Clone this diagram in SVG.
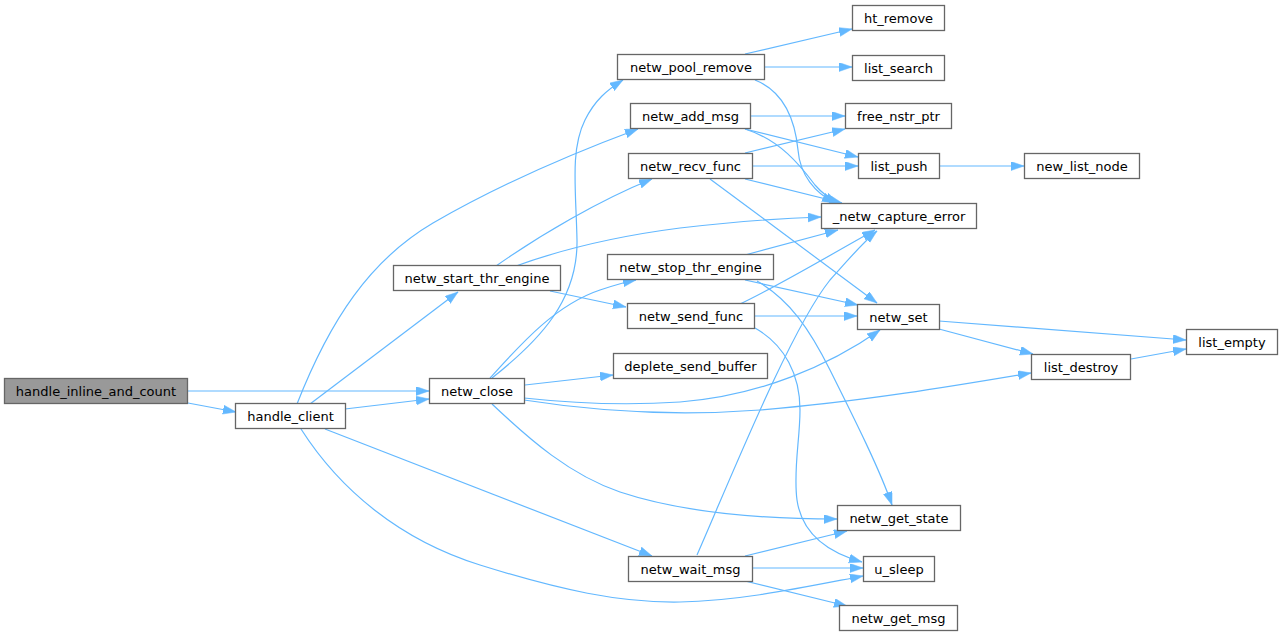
<svg xmlns="http://www.w3.org/2000/svg" width="1283" height="636" viewBox="0 0 1283 636">
<style>
.n rect{fill:#ffffff;stroke:#666666;stroke-width:1.3}
.root rect{fill:#999999;stroke:#666666;stroke-width:1.3}
.n text{font-family:"DejaVu Sans","Liberation Sans",sans-serif;font-size:13px;fill:#000000;text-anchor:middle}
.e path{fill:none;stroke:#63b8ff;stroke-width:1.2;marker-end:url(#ah)}
</style>
<defs>
<marker id="ah" markerUnits="userSpaceOnUse" markerWidth="14" markerHeight="10" refX="13" refY="4.5" orient="auto">
<path d="M0,0 L13,4.5 L0,9 z" fill="#63b8ff" stroke="#63b8ff" stroke-width="0.5"/>
</marker>
</defs>
<rect x="0" y="0" width="1283" height="636" fill="#ffffff"/>
<g id="connectors" class="e">
<path d="M188,391 L429,391"/>
<path d="M188,403 L236,412"/>
<path d="M345,409 L429,399"/>
<path d="M310,404 L458,292"/>
<path d="M297,404 C330,320 370,260 433,223 C490,190 560,158 638,129"/>
<path d="M325,429 L652,556"/>
<path d="M301,429 C340,490 400,540 480,565 C560,590 620,603 680,602 C740,601 800,588 863,576"/>
<path d="M496,266 C540,235 600,200 652,179"/>
<path d="M516,266 C560,250 610,237 680,228 C740,221 790,218 821,217"/>
<path d="M550,291 L626,307"/>
<path d="M492,378 C540,340 578,300 577,240 C576,190 570,150 585,120 C595,100 607,90 623,80"/>
<path d="M490,378 C520,345 555,305 600,290 C615,285 625,282 636,280"/>
<path d="M525,385 L613,375"/>
<path d="M524,398 C570,403 620,406 680,402 C760,396 830,365 880,330"/>
<path d="M524,400 C600,412 680,416 760,410 C860,402 960,385 1031,373"/>
<path d="M492,404 C530,440 570,475 620,492 C680,512 760,519 837,519"/>
<path d="M745,54 L852,29"/>
<path d="M764,67 L852,67"/>
<path d="M755,80 C785,92 795,120 798,150 C800,175 815,193 835,203"/>
<path d="M751,116 L845,116"/>
<path d="M745,129 L858,157"/>
<path d="M745,129 C780,140 800,165 815,185 C822,193 830,199 838,203"/>
<path d="M745,153 L845,129"/>
<path d="M753,166 L858,166"/>
<path d="M745,179 L842,203"/>
<path d="M710,179 L877,303"/>
<path d="M745,255 L838,230"/>
<path d="M745,280 L858,305"/>
<path d="M757,281 C790,300 810,330 830,370 C855,420 880,470 892,505"/>
<path d="M740,304 C780,285 830,255 875,230"/>
<path d="M754,316 L857,316"/>
<path d="M755,328 C785,345 800,375 800,410 C800,440 793,470 797,500 C802,535 830,553 862,562"/>
<path d="M697,555 C730,480 790,330 830,280 C850,258 862,243 877,231"/>
<path d="M745,556 L847,531"/>
<path d="M752,568 L863,568"/>
<path d="M745,581 L847,606"/>
<path d="M939,166 L1024,166"/>
<path d="M939,321 L1186,340"/>
<path d="M939,329 L1033,354"/>
<path d="M1131,359 L1186,349"/>
</g>
<g id="handle_inline_and_count" class="n root"><rect x="4.5" y="378.5" width="183" height="25"/><text x="96" y="395.5">handle_inline_and_count</text></g>
<g id="handle_client" class="n"><rect x="235.5" y="403.5" width="110" height="25"/><text x="290.5" y="420.5">handle_client</text></g>
<g id="netw_close" class="n"><rect x="429.5" y="378.5" width="95" height="25"/><text x="477" y="395.5">netw_close</text></g>
<g id="netw_start_thr_engine" class="n"><rect x="393.5" y="265.5" width="167" height="25"/><text x="477" y="282.5">netw_start_thr_engine</text></g>
<g id="netw_pool_remove" class="n"><rect x="617.5" y="54.5" width="147" height="25"/><text x="691" y="71.5">netw_pool_remove</text></g>
<g id="netw_add_msg" class="n"><rect x="630.5" y="103.5" width="120" height="25"/><text x="690.5" y="120.5">netw_add_msg</text></g>
<g id="netw_recv_func" class="n"><rect x="628.5" y="153.5" width="124" height="25"/><text x="690.5" y="170.5">netw_recv_func</text></g>
<g id="netw_stop_thr_engine" class="n"><rect x="607.5" y="254.5" width="166" height="25"/><text x="690.5" y="271.5">netw_stop_thr_engine</text></g>
<g id="netw_send_func" class="n"><rect x="627.5" y="303.5" width="127" height="25"/><text x="691" y="320.5">netw_send_func</text></g>
<g id="deplete_send_buffer" class="n"><rect x="613.5" y="353.5" width="154" height="25"/><text x="690.5" y="370.5">deplete_send_buffer</text></g>
<g id="netw_wait_msg" class="n"><rect x="628.5" y="556.5" width="124" height="25"/><text x="690.5" y="573.5">netw_wait_msg</text></g>
<g id="ht_remove" class="n"><rect x="852.5" y="5.5" width="92" height="25"/><text x="898.5" y="22.5">ht_remove</text></g>
<g id="list_search" class="n"><rect x="852.5" y="55.5" width="92" height="25"/><text x="898.5" y="72.5">list_search</text></g>
<g id="free_nstr_ptr" class="n"><rect x="845.5" y="103.5" width="106" height="25"/><text x="898.5" y="120.5">free_nstr_ptr</text></g>
<g id="list_push" class="n"><rect x="858.5" y="153.5" width="81" height="25"/><text x="899" y="170.5">list_push</text></g>
<g id="_netw_capture_error" class="n"><rect x="821.5" y="203.5" width="155" height="25"/><text x="899" y="220.5">_netw_capture_error</text></g>
<g id="netw_set" class="n"><rect x="857.5" y="304.5" width="82" height="25"/><text x="898.5" y="321.5">netw_set</text></g>
<g id="netw_get_state" class="n"><rect x="837.5" y="505.5" width="123" height="25"/><text x="899" y="522.5">netw_get_state</text></g>
<g id="u_sleep" class="n"><rect x="863.5" y="556.5" width="71" height="25"/><text x="899" y="573.5">u_sleep</text></g>
<g id="netw_get_msg" class="n"><rect x="839.5" y="605.5" width="118" height="25"/><text x="898.5" y="622.5">netw_get_msg</text></g>
<g id="new_list_node" class="n"><rect x="1024.5" y="153.5" width="115" height="25"/><text x="1082" y="170.5">new_list_node</text></g>
<g id="list_destroy" class="n"><rect x="1031.5" y="354.5" width="99" height="25"/><text x="1081" y="371.5">list_destroy</text></g>
<g id="list_empty" class="n"><rect x="1186.5" y="329.5" width="91" height="25"/><text x="1232" y="346.5">list_empty</text></g>
</svg>
